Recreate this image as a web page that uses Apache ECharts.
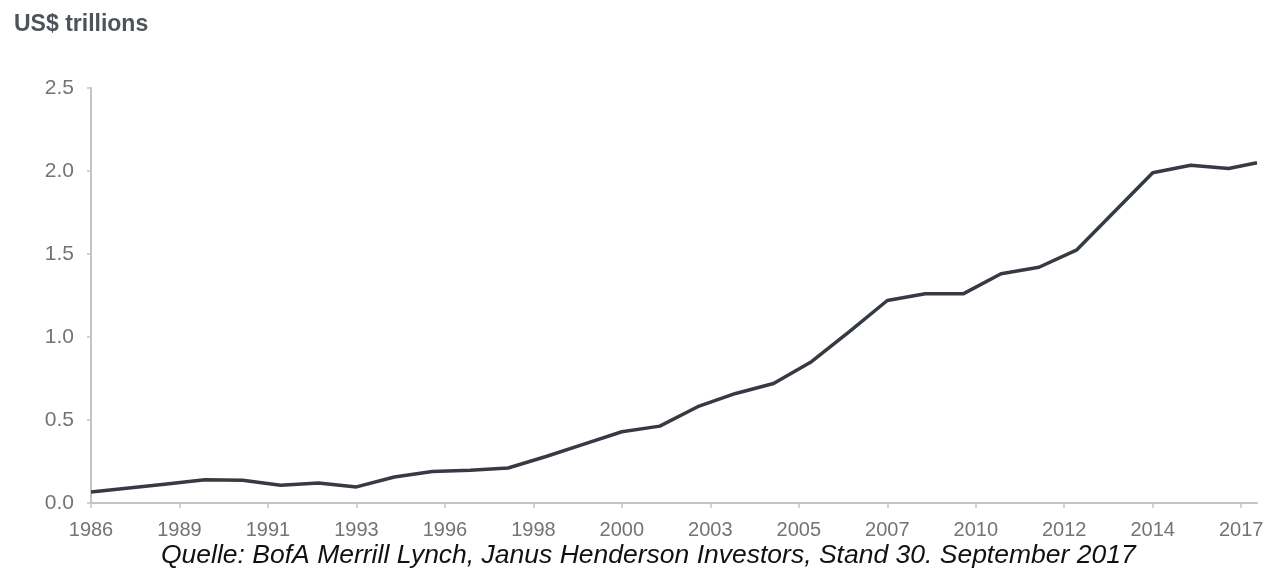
<!DOCTYPE html>
<html>
<head>
<meta charset="utf-8">
<script src="https://cdn.jsdelivr.net/npm/echarts@6/dist/echarts.min.js"></script>
<style>
  html, body { margin: 0; padding: 0; background: #ffffff; }
  #chart { width: 1278px; height: 571px; }
</style>
</head>
<body>
<div id="chart"></div>
<script>
// Observation dates (end of September each year; last reading mid-2017)
const dates = [
  '1986-09', '1987-09', '1988-09', '1989-09', '1990-09', '1991-09', '1992-09', '1993-09',
  '1994-09', '1995-09', '1996-09', '1997-09', '1998-09', '1999-09', '2000-09', '2001-09',
  '2002-09', '2003-09', '2004-09', '2005-09', '2006-09', '2007-09', '2008-09', '2009-09',
  '2010-09', '2011-09', '2012-09', '2013-09', '2014-09', '2015-09', '2016-09', '2017-06'
];
// Market size, US$ trillions
const values = [
  0.066, 0.090, 0.115, 0.140, 0.137, 0.107, 0.121, 0.097,
  0.157, 0.190, 0.197, 0.211, 0.280, 0.355, 0.429, 0.463,
  0.580, 0.660, 0.720, 0.851, 1.033, 1.220, 1.260, 1.260,
  1.381, 1.420, 1.525, 1.757, 1.990, 2.035, 2.015, 2.050
];
// Year labels, one every 28 months starting September 1986
const tickLabels = ['1986', '1989', '1991', '1993', '1996', '1998', '2000',
                    '2003', '2005', '2007', '2010', '2012', '2014', '2017'];
const tickStepMonths = 28;
const yTicks = [0, 0.5, 1.0, 1.5, 2.0, 2.5];

const title = 'US$ trillions';
const source = 'Quelle: BofA Merrill Lynch, Janus Henderson Investors, Stand 30. September 2017';

// months elapsed since the first observation
function monthOffset(d) {
  const [y, m] = d.split('-').map(Number);
  const [y0, m0] = dates[0].split('-').map(Number);
  return (y - y0) * 12 + (m - m0);
}
const seriesData = dates.map((d, i) => [monthOffset(d), values[i]]);
const tickValues = tickLabels.map((_, i) => i * tickStepMonths);
const xMax = monthOffset(dates[dates.length - 1]);

const axisGrey = '#c4c4c4';
const labelGrey = '#747474';
const font = '"Liberation Sans", Arial, sans-serif';

const chart = echarts.init(document.getElementById('chart'));
chart.setOption({
  backgroundColor: '#ffffff',
  animation: false,
  title: [
    {
      text: title, left: 14, top: 13, padding: 0,
      textStyle: { fontFamily: font, fontWeight: 'bold', fontSize: 23, color: '#4e5359' }
    },
    {
      text: source, left: 161, top: 542, padding: 0,
      textStyle: { fontFamily: font, fontStyle: 'italic', fontWeight: 'normal', fontSize: 26.5, color: '#111111' }
    }
  ],
  grid: { left: 91, right: 21, top: 88, bottom: 68, containLabel: false },
  xAxis: {
    type: 'value',
    min: 0,
    max: xMax,
    splitLine: { show: false },
    axisLine: { show: true, onZero: false, lineStyle: { color: axisGrey, width: 2 } },
    axisTick: { show: true, length: 5, customValues: tickValues, lineStyle: { color: axisGrey, width: 1.5 } },
    axisLabel: {
      customValues: tickValues,
      margin: 17,
      fontFamily: font, fontSize: 20, color: labelGrey,
      formatter: v => tickLabels[Math.round(v / tickStepMonths)] || ''
    }
  },
  yAxis: {
    type: 'value',
    min: 0,
    max: 2.5,
    interval: 0.5,
    splitLine: { show: false },
    axisLine: { show: true, lineStyle: { color: axisGrey, width: 2 } },
    axisTick: { show: true, length: 4, customValues: yTicks, lineStyle: { color: axisGrey, width: 1.5 } },
    axisLabel: {
      customValues: yTicks,
      margin: 17,
      fontFamily: font, fontSize: 21, color: labelGrey,
      formatter: v => v.toFixed(1)
    }
  },
  series: [{
    type: 'line',
    data: seriesData,
    showSymbol: false,
    smooth: false,
    lineStyle: { color: '#353a43', width: 3.5, join: 'round' },
    clip: true
  }]
});
</script>
</body>
</html>
